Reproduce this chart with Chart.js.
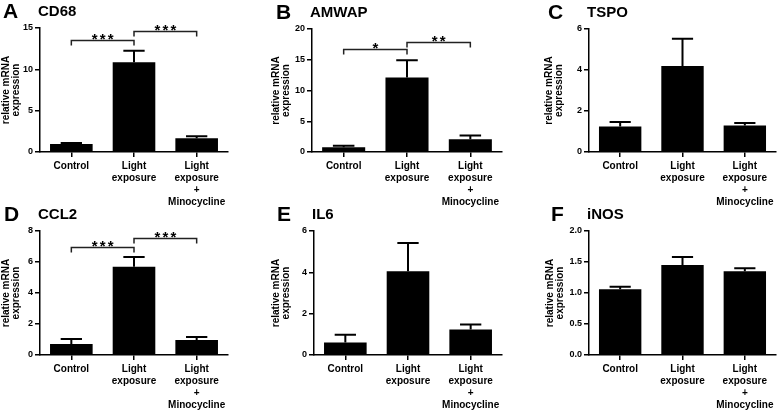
<!DOCTYPE html>
<html>
<head>
<meta charset="utf-8">
<script src="https://cdn.jsdelivr.net/npm/chart.js@4.4.0/dist/chart.umd.min.js"></script>
<style>
  body { margin: 0; background: #fff; }
  #wrap { position: relative; width: 778px; height: 411px; overflow: hidden; font-family: 'Liberation Sans', Arial, sans-serif; }
  #wrap canvas { position: absolute; left: 0; top: 0; }
  .letter { position: absolute; font-weight: bold; font-size: 21px; line-height: 1; }
  .gene { position: absolute; font-weight: bold; font-size: 15px; line-height: 1; }
</style>
</head>
<body>
<div id="wrap"></div>
<script>
'use strict';

var categories = [['Control'], ['Light', 'exposure'], ['Light', 'exposure', '+', 'Minocycline']];

// mean and SEM per gene
var cd68Mean = [0.97, 10.85, 1.65];
var cd68Sem = [0.13, 1.4, 0.27];
var cd68Ticks = [0, 5, 10, 15];
var cd68Sig = [[0, 1, 13.5, '***'], [1, 2, 14.6, '***']];

var amwapMean = [0.76, 12.1, 2.06];
var amwapSem = [0.24, 2.8, 0.64];
var amwapTicks = [0, 5, 10, 15, 20];
var amwapSig = [[0, 1, 16.7, '*'], [1, 2, 17.9, '**']];

var tspoMean = [1.24, 4.2, 1.29];
var tspoSem = [0.22, 1.33, 0.12];
var tspoTicks = [0, 2, 4, 6];

var ccl2Mean = [0.71, 5.7, 0.97];
var ccl2Sem = [0.32, 0.62, 0.19];
var ccl2Ticks = [0, 2, 4, 6, 8];
var ccl2Sig = [[0, 1, 7.0, '***'], [1, 2, 7.53, '***']];

var il6Mean = [0.61, 4.05, 1.23];
var il6Sem = [0.37, 1.37, 0.24];
var il6Ticks = [0, 2, 4, 6];

var inosMean = [1.06, 1.45, 1.35];
var inosSem = [0.04, 0.13, 0.05];
var inosTicks = [0, 0.5, 1.0, 1.5, 2.0];

var FONT = "'Liberation Sans', Arial, sans-serif";
var wrap = document.getElementById('wrap');

function addText(cls, txt, x, y) {
  var d = document.createElement('div');
  d.className = cls;
  d.textContent = txt;
  d.style.left = x + 'px';
  d.style.top = y + 'px';
  wrap.appendChild(d);
}

function makePanel(p) {
  var cv = document.createElement('canvas');
  cv.width = 778;
  cv.height = 411;
  wrap.appendChild(cv);
  addText('letter', p.letter, p.letterX, p.area[1] - 28);
  addText('gene', p.title, p.area[0] - 2, p.area[1] - 25);

  var xH = 55;
  var extras = {
    id: 'extras',
    afterDatasetsDraw: function(chart) {
      var ctx = chart.ctx;
      var meta = chart.getDatasetMeta(0);
      var ys = chart.scales.y;
      var xs = chart.scales.x;
      ctx.save();
      // error bars (upper only)
      ctx.strokeStyle = '#000';
      ctx.lineWidth = 2;
      meta.data.forEach(function(bar, i) {
        var top = ys.getPixelForValue(p.mean[i] + p.sem[i]);
        var half = bar.width / 4;
        ctx.beginPath();
        ctx.moveTo(bar.x, bar.y);
        ctx.lineTo(bar.x, top);
        ctx.moveTo(bar.x - half, top);
        ctx.lineTo(bar.x + half, top);
        ctx.stroke();
      });
      // significance brackets
      ctx.lineWidth = 1.5;
      ctx.strokeStyle = '#222';
      ctx.fillStyle = '#000';
      ctx.font = 'bold 15px ' + FONT;
      ctx.textAlign = 'center';
      ctx.textBaseline = 'alphabetic';
      (p.sig || []).forEach(function(s) {
        var x1 = xs.getPixelForValue(s[0]);
        var x2 = xs.getPixelForValue(s[1]);
        var y = Math.round(ys.getPixelForValue(s[2])) + 0.5;
        ctx.beginPath();
        ctx.moveTo(x1, y + 5);
        ctx.lineTo(x1, y);
        ctx.lineTo(x2, y);
        ctx.lineTo(x2, y + 5);
        ctx.stroke();
        var n = s[3].length;
        var cx = (x1 + x2) / 2;
        for (var k = 0; k < n; k++) {
          ctx.fillText('*', cx + (k - (n - 1) / 2) * 8, y + 3);
        }
      });
      ctx.restore();
    }
  };

  new Chart(cv, {
    type: 'bar',
    data: {
      labels: categories,
      datasets: [{
        data: p.mean,
        backgroundColor: '#000',
        borderWidth: 0,
        barPercentage: 0.68,
        categoryPercentage: 1
      }]
    },
    options: {
      responsive: false,
      animation: false,
      events: [],
      layout: {
        padding: {
          left: p.area[0] - p.yW,
          top: p.area[1],
          right: 778 - p.area[2],
          bottom: 411 - p.area[3] - xH
        }
      },
      plugins: { legend: { display: false }, tooltip: { enabled: false } },
      scales: {
        x: {
          grid: { offset: false, drawOnChartArea: false, tickLength: 5, color: '#000', lineWidth: 1.5 },
          border: { color: '#000', width: 1.5 },
          ticks: {
            color: '#000', padding: 3, maxRotation: 0, autoSkip: false,
            font: { family: FONT, size: 10, weight: 'bold', lineHeight: 1.2 }
          },
          afterFit: function(scale) { scale.height = xH; }
        },
        y: {
          min: 0,
          max: p.ticks[p.ticks.length - 1],
          grid: { drawOnChartArea: false, tickLength: 5, color: '#000', lineWidth: 1.5 },
          border: { color: '#000', width: 1.5 },
          ticks: {
            color: '#000', padding: 2,
            font: { family: FONT, size: 9, weight: 'bold' },
            callback: function(v) { return p.dec ? Number(v).toFixed(p.dec) : v; }
          },
          afterBuildTicks: function(scale) {
            scale.ticks = p.ticks.map(function(v) { return { value: v }; });
          },
          title: {
            display: true,
            text: ['relative mRNA', 'expression'],
            color: '#000',
            padding: { top: 1.5, bottom: 0 },
            font: { family: FONT, size: 10, weight: 'bold', lineHeight: 1.0 }
          },
          afterFit: function(scale) { scale.width = p.yW; }
        }
      }
    },
    plugins: [extras]
  });
}

makePanel({ letter: 'A', letterX: 3, title: 'CD68', mean: cd68Mean, sem: cd68Sem, ticks: cd68Ticks, sig: cd68Sig,
  area: [40, 28, 228, 152], yW: 40 });
makePanel({ letter: 'B', letterX: 276, title: 'AMWAP', mean: amwapMean, sem: amwapSem, ticks: amwapTicks, sig: amwapSig,
  area: [312, 29, 502, 152], yW: 42 });
makePanel({ letter: 'C', letterX: 548, title: 'TSPO', mean: tspoMean, sem: tspoSem, ticks: tspoTicks,
  area: [589, 29, 776, 152], yW: 46.5 });
makePanel({ letter: 'D', letterX: 4, title: 'CCL2', mean: ccl2Mean, sem: ccl2Sem, ticks: ccl2Ticks, sig: ccl2Sig,
  area: [40, 231, 228, 355], yW: 40 });
makePanel({ letter: 'E', letterX: 277, title: 'IL6', mean: il6Mean, sem: il6Sem, ticks: il6Ticks,
  area: [314, 231, 502, 355], yW: 44 });
makePanel({ letter: 'F', letterX: 551, title: 'iNOS', mean: inosMean, sem: inosSem, ticks: inosTicks, dec: 1,
  area: [589, 231, 776, 355], yW: 45.5 });
</script>
</body>
</html>
